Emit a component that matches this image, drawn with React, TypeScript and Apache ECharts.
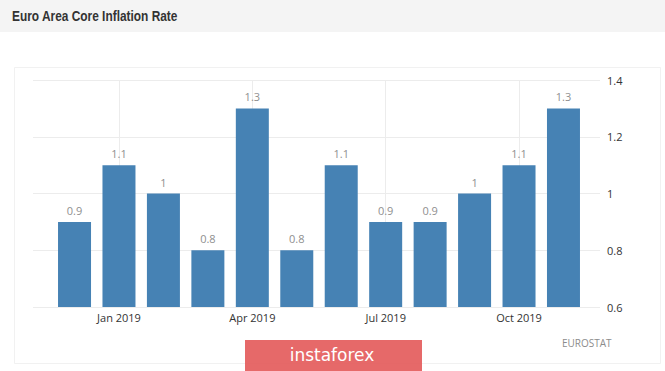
import React, { useEffect, useRef } from "react";
import * as echarts from "echarts";

const months = [
  "Dec 2018", "Jan 2019", "Feb 2019", "Mar 2019", "Apr 2019", "May 2019",
  "Jun 2019", "Jul 2019", "Aug 2019", "Sep 2019", "Oct 2019", "Nov 2019",
];
const coreInflation = [0.9, 1.1, 1, 0.8, 1.3, 0.8, 1.1, 0.9, 0.9, 1, 1.1, 1.3];
const labeledMonths = ["Jan 2019", "Apr 2019", "Jul 2019", "Oct 2019"];
const yTicks = { min: 0.6, max: 1.4, interval: 0.2 };
const titleText = "Euro Area Core Inflation Rate";
const sourceText = "EUROSTAT";
const watermarkText = "instaforex";

export default function App() {
  const ref = useRef<HTMLDivElement>(null);
  useEffect(() => {
    if (!ref.current) return;
    const chart = echarts.init(ref.current, null, { renderer: "svg" });
    const font = "'Open Sans', 'DejaVu Sans', sans-serif";
    chart.setOption({
      animation: false,
      backgroundColor: "#ffffff",
      graphic: [
        {
          type: "rect",
          z: -10,
          shape: { x: 0, y: 0, width: 665, height: 32 },
          style: { fill: "#f4f4f4" },
        },
        {
          type: "text",
          x: 12,
          y: 16,
          scaleX: 0.85,
          style: {
            text: titleText,
            fill: "#333333",
            font: "bold 14px 'Liberation Sans', Arial, sans-serif",
            verticalAlign: "middle",
          },
        },
        {
          type: "rect",
          z: -10,
          shape: { x: 14.5, y: 67.5, width: 646, height: 296 },
          style: { fill: "none", stroke: "#f1f1f1", lineWidth: 1 },
        },
        {
          type: "text",
          left: 562,
          top: 338,
          style: { text: sourceText, fill: "#8c8c8c", font: `10px ${font}` },
        },
        {
          type: "group",
          left: 245,
          top: 340,
          children: [
            {
              type: "rect",
              shape: { x: 0, y: 0, width: 177, height: 31 },
              style: { fill: "rgba(228,92,92,0.92)" },
            },
            {
              type: "text",
              x: 87,
              y: 15,
              style: {
                text: watermarkText,
                fill: "#ffffff",
                font: `17px 'DejaVu Sans', sans-serif`,
                align: "center",
                verticalAlign: "middle",
              },
            },
          ],
        },
      ],
      grid: [
        { left: 33, right: 65, top: 80, bottom: 64 },
        { left: 52.3, right: 79.3, top: 80, bottom: 64 },
      ],
      xAxis: [
        { type: "value", gridIndex: 0, show: false, min: 0, max: 1 },
        {
          type: "category",
          gridIndex: 1,
          data: months,
          axisLine: { show: false },
          axisTick: { show: false },
          splitLine: { show: false },
          axisLabel: {
            interval: (_i: number, v: string) => labeledMonths.includes(v),
            color: "#333333",
            fontFamily: font,
            fontSize: 11,
            margin: 5,
          },
        },
      ],
      yAxis: [
        {
          type: "value",
          gridIndex: 0,
          position: "right",
          min: yTicks.min,
          max: yTicks.max,
          interval: yTicks.interval,
          axisLine: { show: false },
          axisTick: { show: false },
          splitLine: { lineStyle: { color: "#ececec", width: 1 } },
          axisLabel: {
            color: "#333333",
            fontFamily: font,
            fontSize: 11,
            margin: 7,
          },
        },
        {
          type: "value",
          gridIndex: 1,
          min: yTicks.min,
          max: yTicks.max,
          interval: yTicks.interval,
          show: false,
          splitLine: { show: false },
        },
      ],
      series: [
        {
          type: "line",
          xAxisIndex: 1,
          yAxisIndex: 1,
          data: [],
          z: 1,
          silent: true,
          markLine: {
            z: 0,
            silent: true,
            symbol: "none",
            label: { show: false },
            lineStyle: { color: "#ececec", type: "solid", width: 1 },
            data: labeledMonths.map((m) => ({ xAxis: m })),
          },
        },
        {
          type: "bar",
          xAxisIndex: 1,
          yAxisIndex: 1,
          z: 3,
          data: coreInflation,
          barWidth: 33,
          itemStyle: { color: "#4682b4" },
          label: {
            show: true,
            position: "top",
            distance: 6,
            color: "#8f8f8f",
            fontFamily: font,
            fontSize: 11,
          },
        },
      ],
    });
    return () => chart.dispose();
  }, []);
  return (
    <div
      ref={ref}
      style={{ position: "absolute", left: 0, top: 0, width: 665, height: 371 }}
    />
  );
}
